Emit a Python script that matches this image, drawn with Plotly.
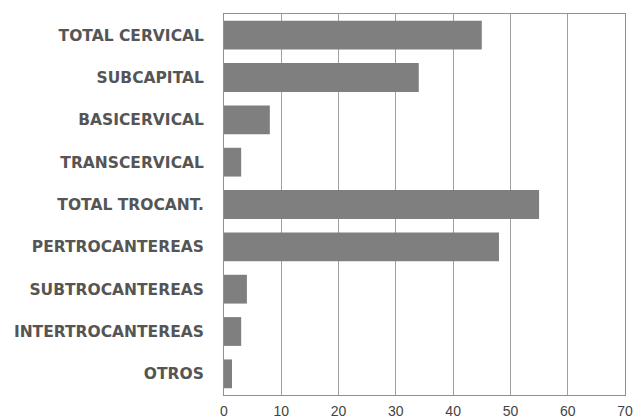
import plotly.graph_objects as go

categories = ["TOTAL CERVICAL", "SUBCAPITAL", "BASICERVICAL", "TRANSCERVICAL",
              "TOTAL TROCANT.", "PERTROCANTEREAS", "SUBTROCANTEREAS",
              "INTERTROCANTEREAS", "OTROS"]
values = [45, 34, 8, 3, 55, 48, 4, 3, 1.4]
x_ticks = [0, 10, 20, 30, 40, 50, 60, 70]

fig = go.Figure(go.Bar(
    x=values, y=categories, orientation="h",
    marker=dict(color="#7f7f7f", line=dict(width=0)),
    width=0.68,
))

fig.update_layout(
    width=638, height=419,
    margin=dict(l=224, r=13, t=14, b=24),
    paper_bgcolor="white", plot_bgcolor="white",
    showlegend=False,
    font=dict(family="DejaVu Sans, sans-serif", color="#444"),
)
fig.update_xaxes(
    range=[0, 70], tickvals=x_ticks, ticktext=[str(t) for t in x_ticks],
    showgrid=True, gridcolor="#a0a0a0", gridwidth=1,
    showline=True, linecolor="#909090", linewidth=1, mirror=True,
    zeroline=False, ticks="", automargin=False, ticklabelstandoff=3,
    tickfont=dict(size=14, color="#444", family="Liberation Sans, Arial, sans-serif"),
)
fig.update_yaxes(
    categoryorder="array", categoryarray=categories,
    range=[8.5, -0.5], automargin=False,
    showgrid=False, showline=True, linecolor="#909090", linewidth=1, mirror=True,
    ticks="", ticklabelstandoff=16,
    tickfont=dict(size=15.5, color="#555", family="DejaVu Sans, sans-serif"),
    tickprefix="<b>", ticksuffix="</b>",
)

fig.write_html(
    "out.html",
    config={"displayModeBar": False},
    post_script="document.body.style.margin='0';document.body.style.overflow='hidden';",
)
